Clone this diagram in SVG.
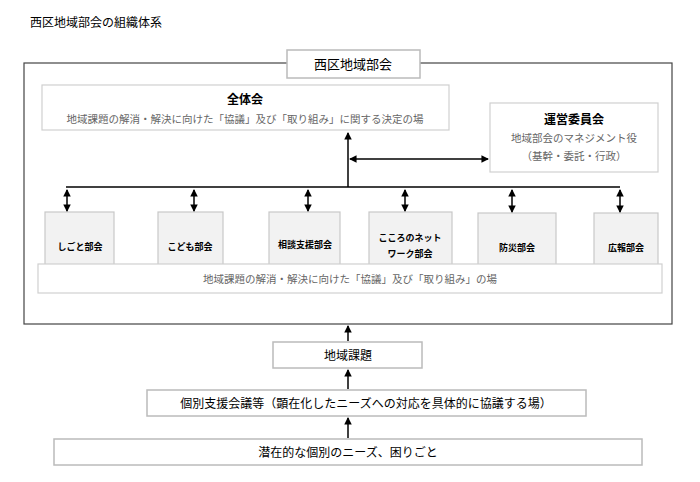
<svg xmlns="http://www.w3.org/2000/svg" width="700" height="482" viewBox="0 0 700 482">
<style>
text{font-family:"Noto Sans CJK JP",sans-serif;text-anchor:middle}
.b{fill:#fff;stroke:#d0d0d0;stroke-width:1.2}
.g{fill:#f2f2f2;stroke:#c8c8c8;stroke-width:1.2}
.k{fill:#fff;stroke:#bbb;stroke-width:1.5}
.l{stroke:#000;stroke-width:1.5;fill:none}
</style>
<defs><marker id="a" viewBox="0 0 8 8" refX="7" refY="4" markerWidth="5" markerHeight="5" orient="auto-start-reverse"><path d="M0,0L8,4L0,8z"/></marker></defs>
<text x="30" y="27" font-size="12" style="text-anchor:start">西区地域部会の組織体系</text>
<rect x="24" y="63" width="648" height="261" fill="#fff" stroke="#444" stroke-width="1.2"/>
<g id="title"><rect class="k" x="287" y="50" width="133" height="28"/><text x="353" y="69" font-size="13">西区地域部会</text></g>
<g id="zentai"><rect class="b" x="42" y="85" width="407" height="45"/><text x="245" y="104" font-size="12" font-weight="bold">全体会</text><text x="245" y="123" font-size="10.5" fill="#666">地域課題の解消・解決に向けた「協議」及び「取り組み」に関する決定の場</text></g>
<g id="unei"><rect class="b" x="490" y="103" width="168" height="69"/><text x="574" y="124" font-size="12" font-weight="bold">運営委員会</text><text x="574" y="142" font-size="10.5" fill="#666">地域部会のマネジメント役</text><text x="574" y="160" font-size="10.5" fill="#666">（基幹・委託・行政）</text></g>
<g id="s1"><rect class="g" x="45" y="212" width="69" height="68"/><text x="80" y="250" font-size="9" font-weight="bold">しごと部会</text></g>
<g id="s2"><rect class="g" x="158" y="212" width="65" height="68"/><text x="190" y="250" font-size="9" font-weight="bold">こども部会</text></g>
<g id="s3"><rect class="g" x="269" y="212" width="71" height="66"/><text x="305" y="248" font-size="9" font-weight="bold">相談支援部会</text></g>
<g id="s4"><rect class="g" x="369" y="212" width="83" height="67"/><text x="410" y="241" font-size="9" font-weight="bold">こころのネット</text><text x="410" y="257" font-size="9" font-weight="bold">ワーク部会</text></g>
<g id="s5"><rect class="g" x="478" y="213" width="78" height="67"/><text x="517" y="251" font-size="9" font-weight="bold">防災部会</text></g>
<g id="s6"><rect class="g" x="594" y="213" width="64" height="67"/><text x="626" y="251" font-size="9" font-weight="bold">広報部会</text></g>
<g id="ba"><rect class="b" x="38" y="264" width="624" height="29"/><text x="350" y="283" font-size="10.5" fill="#666">地域課題の解消・解決に向けた「協議」及び「取り組み」の場</text></g>
<g id="n1"><rect class="k" x="273" y="342" width="149" height="26"/><text x="348" y="360" font-size="12">地域課題</text></g>
<g id="n2"><rect class="k" x="147" y="390" width="439" height="26"/><text x="366" y="408" font-size="12">個別支援会議等（顕在化したニーズへの対応を具体的に協議する場）</text></g>
<g id="n3"><rect class="k" x="54" y="439" width="588" height="26"/><text x="348" y="457" font-size="12">潜在的な個別のニーズ、困りごと</text></g>
<g id="connectors" class="l">
<line x1="348" y1="187" x2="348" y2="133" marker-end="url(#a)"/>
<line x1="350" y1="159" x2="488" y2="159" marker-start="url(#a)" marker-end="url(#a)"/>
<line x1="66" y1="187" x2="620" y2="187"/>
<line x1="67" y1="190" x2="67" y2="211" marker-start="url(#a)" marker-end="url(#a)"/>
<line x1="194" y1="190" x2="194" y2="211" marker-start="url(#a)" marker-end="url(#a)"/>
<line x1="308" y1="190" x2="308" y2="211" marker-start="url(#a)" marker-end="url(#a)"/>
<line x1="405" y1="190" x2="405" y2="211" marker-start="url(#a)" marker-end="url(#a)"/>
<line x1="512" y1="190" x2="512" y2="212" marker-start="url(#a)" marker-end="url(#a)"/>
<line x1="620" y1="190" x2="620" y2="212" marker-start="url(#a)" marker-end="url(#a)"/>
<line x1="348" y1="341" x2="348" y2="326" marker-end="url(#a)"/>
<line x1="348" y1="389" x2="348" y2="370" marker-end="url(#a)"/>
<line x1="348" y1="438" x2="348" y2="418" marker-end="url(#a)"/>
</g>
</svg>
